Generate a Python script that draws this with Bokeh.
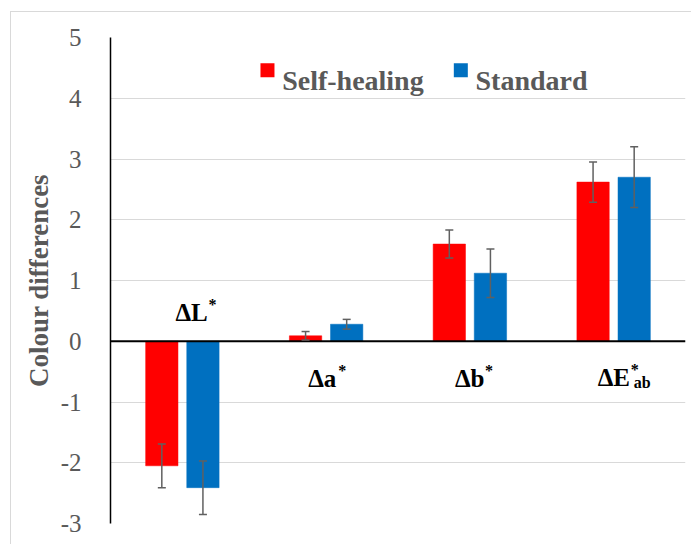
from bokeh.plotting import figure
from bokeh.models import ColumnDataSource, Whisker, TeeHead, Span, FactorRange, FixedTicker
from bokeh.transform import dodge
from bokeh.core.properties import value
from bokeh.embed import file_html
from bokeh.resources import INLINE

# ---------------- data ----------------
categories = ["ΔL*", "Δa*", "Δb*", "ΔE*ab"]
label_main = ["ΔL", "Δa", "Δb", "ΔE"]
label_sup = ["*", "*", "*", "*"]
label_sub = ["", "", "", "ab"]
series_names = ["Self-healing", "Standard"]
self_healing = [-2.05, 0.09, 1.60, 2.62]
self_healing_err = [0.36, 0.07, 0.23, 0.33]
standard = [-2.41, 0.28, 1.12, 2.70]
standard_err = [0.44, 0.08, 0.40, 0.50]
y_ticks = [-3, -2, -1, 0, 1, 2, 3, 4, 5]

# ---------------- styles / layout ----------------
RED = "#FF0000"
BLUE = "#0070C0"
GREY_TXT = "#595959"
GRID = "#d9d9d9"
SERIF = "Liberation Serif"
DODGE = 0.143
BAR_W = 0.225

src = ColumnDataSource(dict(
    cat=categories,
    sh=self_healing,
    sh_up=[v + e for v, e in zip(self_healing, self_healing_err)],
    sh_lo=[v - e for v, e in zip(self_healing, self_healing_err)],
    st=standard,
    st_up=[v + e for v, e in zip(standard, standard_err)],
    st_lo=[v - e for v, e in zip(standard, standard_err)],
))

p = figure(
    width=691, height=544,
    x_range=FactorRange(factors=categories, range_padding=0),
    y_range=(-3, 5),
    x_axis_location=None,
    output_backend="svg", toolbar_location=None,
    min_border_left=110, min_border_right=6,
    min_border_top=37, min_border_bottom=21,
)
p.outline_line_color = None
p.background_fill_color = "white"
p.border_fill_alpha = 0
# light chart-area border (left and top edges), drawn by CSS behind the canvas
p.styles = {
    "background": ("linear-gradient(#d9d9d9,#d9d9d9) 10px 11px / 1px 100% no-repeat, "
                   "linear-gradient(#d9d9d9,#d9d9d9) 10px 11px / 100% 1px no-repeat, white"),
}

# grid
p.xgrid.visible = False
p.ygrid.ticker = FixedTicker(ticks=y_ticks)
p.ygrid.grid_line_color = GRID
p.ygrid.grid_line_width = 1

# y axis
p.yaxis.ticker = FixedTicker(ticks=y_ticks)
p.yaxis.major_label_overrides = {t: str(t) for t in y_ticks}
p.yaxis.axis_line_color = "black"
p.yaxis.axis_line_width = 1.5
p.yaxis.major_tick_line_color = None
p.yaxis.minor_tick_line_color = None
p.yaxis.major_tick_out = 0
p.yaxis.major_label_standoff = 29
p.yaxis.major_label_text_font = SERIF
p.yaxis.major_label_text_font_size = "25px"
p.yaxis.major_label_text_color = GREY_TXT
p.yaxis.axis_label = "Colour differences"
p.yaxis.axis_label_text_font = SERIF
p.yaxis.axis_label_text_font_style = "bold"
p.yaxis.axis_label_text_font_size = "27px"
p.yaxis.axis_label_text_color = GREY_TXT
p.yaxis.axis_label_standoff = 4

# bars
p.vbar(x=dodge("cat", -DODGE, range=p.x_range), top="sh", width=BAR_W, source=src,
       fill_color=RED, line_color=RED, line_width=0.5)
p.vbar(x=dodge("cat", DODGE, range=p.x_range), top="st", width=BAR_W, source=src,
       fill_color=BLUE, line_color=BLUE, line_width=0.5)

# zero line
p.add_layout(Span(location=0, dimension="width", line_color="black", line_width=2))

# error bars (drawn above the bars)
for off, up, lo in [(-DODGE, "sh_up", "sh_lo"), (DODGE, "st_up", "st_lo")]:
    w = Whisker(source=src, base=dodge("cat", off, range=p.x_range), upper=up, lower=lo,
                line_color="#606060", line_width=1.5, level="annotation",
                upper_head=TeeHead(size=8, line_color="#606060", line_width=1.5),
                lower_head=TeeHead(size=8, line_color="#606060", line_width=1.5))
    p.add_layout(w)

# category labels (with super/subscripts)
label_y = [0.473, -0.61, -0.61, -0.59]
label_xoff = [-7, -18, -15, -16]
sup_dx = [33, 30, 30, 33]
sub_dx = [36, 36, 36, 36]
lbl = ColumnDataSource(dict(
    cat=categories, y=label_y, main=label_main, sup=label_sup, sub=label_sub,
    xo=label_xoff,
    xs=[a + b for a, b in zip(label_xoff, sup_dx)],
    xb=[a + b for a, b in zip(label_xoff, sub_dx)],
))
p.text(x="cat", y="y", text="main", x_offset="xo", source=lbl,
       text_font=value(SERIF), text_font_style="bold", text_font_size="25px",
       text_color="black", text_align="left", text_baseline="alphabetic")
p.text(x="cat", y="y", text="sup", x_offset="xs", y_offset=-8, source=lbl,
       text_font=value(SERIF), text_font_style="bold", text_font_size="16px",
       text_color="black", text_align="left", text_baseline="alphabetic")
p.text(x="cat", y="y", text="sub", x_offset="xb", y_offset=5, source=lbl,
       text_font=value(SERIF), text_font_style="bold", text_font_size="16px",
       text_color="black", text_align="left", text_baseline="alphabetic")

# legend (manual, in synthetic x coordinates)
leg_sq_x = [1.092, 2.437]
leg_txt_x = [1.194, 2.539]
p.scatter(x=leg_sq_x, y=[4.462, 4.462], marker="square", size=14,
          fill_color=[RED, BLUE], line_color=None)
p.text(x=leg_txt_x, y=[4.30, 4.30], text=series_names,
       text_font=value(SERIF), text_font_style="bold", text_font_size="28px",
       text_color=GREY_TXT, text_align="left", text_baseline="alphabetic")

open("out.html", "w").write(file_html(p, INLINE))
